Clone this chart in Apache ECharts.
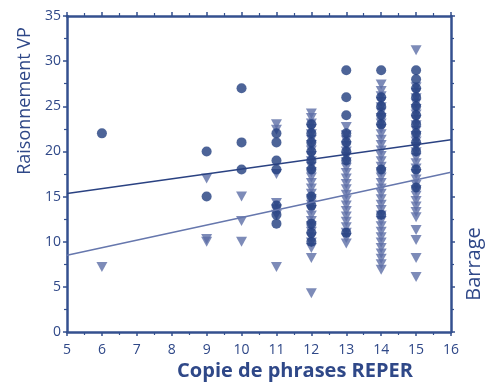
<!DOCTYPE html>
<html><head><meta charset="utf-8">
<script src="https://cdn.jsdelivr.net/npm/echarts@6/dist/echarts.min.js"></script>
<style>html,body{margin:0;padding:0;background:#fff}#c{width:485px;height:382px}</style>
</head><body><div id="c"></div>
<script>
// Column positions (Copie de phrases REPER)
const columns = [6, 9, 10, 11, 12, 13, 14, 15];
// Raisonnement VP (circles) per column
const vpValues = [
  [22],
  [20, 15],
  [27, 21, 18],
  [22, 21, 19, 18, 14, 13, 12],
  [10, 11, 12, 14, 15, 18, 19, 20, 21, 22, 23],
  [29, 26, 24, 22, 21, 20, 19, 11],
  [29, 26, 25, 24, 23, 18, 13],
  [29, 28, 27, 26, 25, 24, 23, 22, 21, 20, 18, 16]
];
// Barrage (triangles) per column
const barrageValues = [
  [7.2],
  [17, 10, 10.3],
  [15, 12.3, 10],
  [23, 22.4, 17.5, 14.3, 13.6, 13.0, 7.2],
  [4.3, 8.2, 9.3, 9.9, 10.5, 11.1, 11.7, 12.3, 12.9, 13.5, 14.1, 14.7, 15.3, 15.9, 16.5, 17.1, 17.7, 18.3, 18.9, 19.5, 20.1, 20.7, 21.3, 21.9, 22.5, 23.1, 23.7, 24.2],
  [9.8, 10.4, 11.0, 11.6, 12.2, 12.8, 13.4, 14.0, 14.6, 15.2, 15.8, 16.4, 17.0, 17.6, 18.2, 18.8, 19.4, 20.0, 20.6, 21.2, 21.8, 22.7],
  [6.9, 7.5, 8.1, 8.7, 9.3, 9.9, 10.5, 11.1, 11.7, 12.3, 12.9, 13.5, 14.1, 14.7, 15.3, 15.9, 16.5, 17.1, 17.7, 18.3, 18.9, 19.5, 20.1, 20.7, 21.3, 21.9, 22.5, 23.1, 23.7, 24.3, 24.9, 25.5, 26.1, 26.7, 27.4],
  [6.1, 8.2, 10.2, 11.3, 12.7, 13.3, 13.9, 14.5, 15.1, 15.7, 16.3, 16.9, 17.5, 18.1, 18.7, 19.3, 19.9, 20.5, 21.1, 21.7, 22.3, 22.9, 23.5, 24.1, 24.7, 25.3, 25.9, 26.5, 27.1, 31.2]
];
// Regression lines: [x, y] end points
const vpLine = [[5, 15.34], [16, 21.3]];
const barrageLine = [[5, 8.5], [16, 17.7]];
const xTicks = {min: 5, max: 16, interval: 1};
const yTicks = {min: 0, max: 35, interval: 5};

function pairs(vals) {
  const out = [];
  columns.forEach((x, i) => vals[i].forEach(v => out.push([x, v])));
  return out;
}

const axisColor = '#34508f';
const textColor = '#2f4888';
const fontFam = '"Open Sans", sans-serif';

const chart = echarts.init(document.getElementById('c'), null, {renderer: 'canvas'});

function xAx(pos, labels) {
  return {
    type: 'value', position: pos, min: xTicks.min, max: xTicks.max, interval: xTicks.interval,
    axisLine: {show: true, onZero: false, lineStyle: {color: axisColor, width: 2.5}},
    axisTick: {show: true, inside: false, length: 4, lineStyle: {color: axisColor, width: 1.5}},
    minorTick: {show: true, splitNumber: 2, length: 3, lineStyle: {color: axisColor, width: 1.2}},
    axisLabel: {show: labels, margin: 11, color: textColor, fontSize: 14, fontFamily: fontFam},
    splitLine: {show: false}
  };
}
function yAx(pos, labels) {
  return {
    type: 'value', position: pos, min: yTicks.min, max: yTicks.max, interval: yTicks.interval,
    axisLine: {show: true, onZero: false, lineStyle: {color: axisColor, width: 2.5}},
    axisTick: {show: true, inside: false, length: 4, lineStyle: {color: axisColor, width: 1.5}},
    minorTick: {show: true, splitNumber: 2, length: 3, lineStyle: {color: axisColor, width: 1.2}},
    axisLabel: {show: labels, margin: 6, color: textColor, fontSize: 14, fontFamily: fontFam},
    splitLine: {show: false}
  };
}

chart.setOption({
  animation: false,
  grid: {left: 67, right: 34, top: 16, bottom: 50},
  xAxis: [xAx('bottom', true), xAx('top', false)],
  yAxis: [yAx('left', true), yAx('right', false)],
  graphic: [
    {type: 'text', x: 295, y: 371, style: {text: 'Copie de phrases REPER', fill: textColor, font: 'bold 20px "Open Sans", sans-serif', align: 'center', verticalAlign: 'middle'}},
    {type: 'text', x: 25, y: 101, rotation: Math.PI / 2, style: {text: 'Raisonnement VP', fill: textColor, font: '18px "Open Sans", sans-serif', align: 'center', verticalAlign: 'middle'}},
    {type: 'text', x: 474, y: 264, rotation: Math.PI / 2, style: {text: 'Barrage', fill: textColor, font: '20px "Open Sans", sans-serif', align: 'center', verticalAlign: 'middle'}}
  ],
  series: [
    {type: 'scatter', data: pairs(barrageValues), symbol: 'triangle', symbolRotate: 180, symbolSize: [11, 10],
     itemStyle: {color: '#5d6ea6'}, z: 2},
    {type: 'scatter', data: pairs(vpValues), symbol: 'circle', symbolSize: 10,
     itemStyle: {color: '#203d7e'}, z: 3},
    {type: 'line', data: vpLine, symbol: 'none', lineStyle: {color: '#2a4282', width: 1.5}, z: 4},
    {type: 'line', data: barrageLine, symbol: 'none', lineStyle: {color: '#6677ad', width: 1.5}, z: 4}
  ]
});
</script></body></html>
